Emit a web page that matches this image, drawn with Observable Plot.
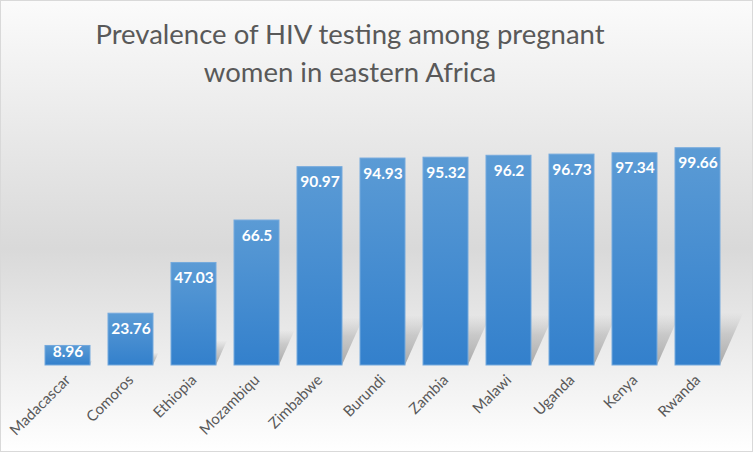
<!DOCTYPE html>
<html>
<head>
<meta charset="utf-8">
<script src="https://cdn.jsdelivr.net/npm/d3@7"></script>
<script src="https://cdn.jsdelivr.net/npm/@observablehq/plot@0.6"></script>
<style>
  html, body { margin: 0; padding: 0; background: #fff; }
  #chart {
    position: relative; width: 753px; height: 452px; overflow: hidden;
    background: linear-gradient(to bottom, #fbfbfb 0%, #d9d9d9 55%, #ffffff 100%);
    box-shadow: inset 0 0 0 1px #d9d9d9;
    font-family: Lato, "Open Sans", sans-serif;
  }
  #title {
    height: 100px; box-sizing: border-box; padding-top: 15px;
    width: 700px; text-align: center;
    color: #595959; font-size: 27.5px; line-height: 38px;
  }
  #chart svg { display: block; background: transparent; }
</style>
</head>
<body>
<div id="chart">
  <div id="title">Prevalence of HIV testing among pregnant<br>women in eastern Africa</div>
</div>
<script>
const countries = ["Madacascar", "Comoros", "Ethiopia", "Mozambiqu", "Zimbabwe", "Burundi", "Zambia", "Malawi", "Uganda", "Kenya", "Rwanda"];
const values = [8.96, 23.76, 47.03, 66.5, 90.97, 94.93, 95.32, 96.2, 96.73, 97.34, 99.66];

const data = countries.map((c, i) => ({country: c, value: values[i]}));

const SHADOW_RATIO = 0.24;

const chart = Plot.plot({
  width: 753,
  height: 352,
  marginLeft: 34,
  marginRight: 23,
  marginTop: 47,
  marginBottom: 87,
  style: {background: "transparent", fontFamily: "Lato, 'Open Sans', sans-serif"},
  x: {domain: countries, paddingInner: 0.29, paddingOuter: 0.145, label: null},
  y: {domain: [0, 100], axis: null},
  marks: [
    // perspective shadows: short bars, sheared back to the right (shear applied below)
    Plot.barY(data, {x: "country", y: d => d.value * SHADOW_RATIO, fill: "url(#shadowGrad)"}),
    Plot.barY(data, {x: "country", y: "value", fill: "url(#barGrad)", stroke: "#74a9dd", strokeWidth: 1}),
    Plot.text(data, {
      x: "country", y: d => Math.max(d.value, 13), text: d => String(d.value),
      lineAnchor: "top", dy: 9, fill: "white", fontWeight: "bold", fontSize: 15.5
    }),
    Plot.axisX({tickSize: 0, tickRotate: -45, tickPadding: 12, fontSize: 15, color: "#595959", label: null})
  ]
});

const svgNode = chart.tagName.toLowerCase() === "svg" ? chart : chart.querySelector("svg");
const svg = d3.select(svgNode);
const defs = svg.insert("defs", ":first-child");
const lg = defs.append("linearGradient")
  .attr("id", "barGrad").attr("x1", 0).attr("y1", 0).attr("x2", 0).attr("y2", 1);
lg.append("stop").attr("offset", "0%").attr("stop-color", "#5b9bd5");
lg.append("stop").attr("offset", "100%").attr("stop-color", "#3380cc");
const sg = defs.append("linearGradient")
  .attr("id", "shadowGrad").attr("x1", 0).attr("y1", 1).attr("x2", 0).attr("y2", 0);
sg.append("stop").attr("offset", "0%").attr("stop-color", "#a0a0a0").attr("stop-opacity", 0.9);
sg.append("stop").attr("offset", "60%").attr("stop-color", "#a8a8a8").attr("stop-opacity", 0.5);
sg.append("stop").attr("offset", "100%").attr("stop-color", "#b0b0b0").attr("stop-opacity", 0);

// the first bar group is the shadow mark: shear it back to the right from its baseline
const barGroups = svgNode.querySelectorAll('g[aria-label="bar"]');
if (barGroups.length > 1) {
  d3.select(barGroups[0]).selectAll("rect").each(function () {
    const r = d3.select(this);
    const y0 = +r.attr("y") + +r.attr("height");
    const t = r.attr("transform") || "";
    r.attr("transform", `translate(0,${y0}) skewX(-24) translate(0,${-y0}) ${t}`);
  });
}

document.getElementById("chart").appendChild(chart);
</script>
</body>
</html>
